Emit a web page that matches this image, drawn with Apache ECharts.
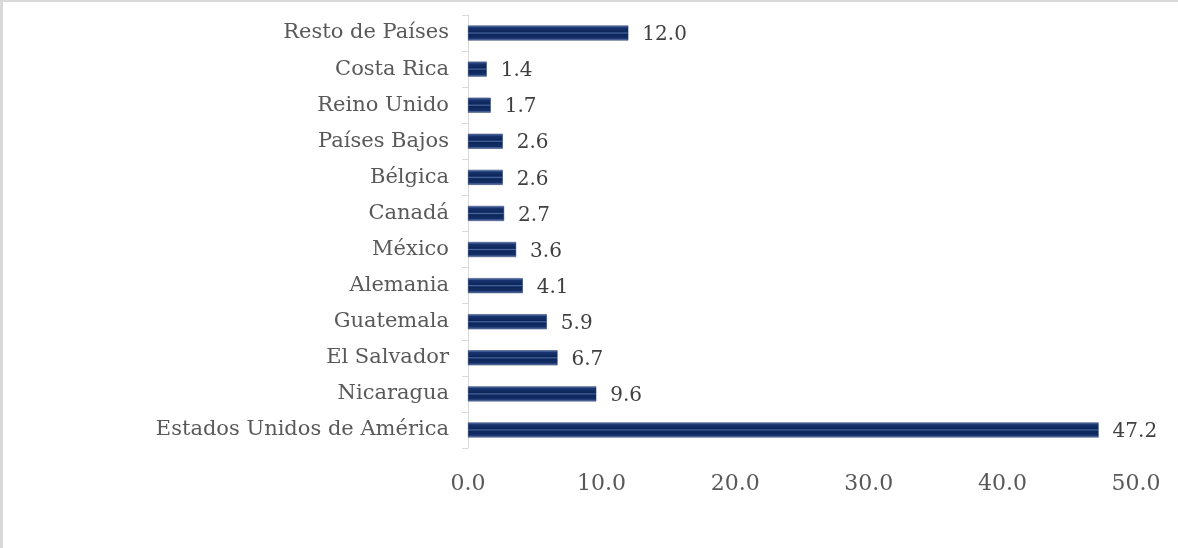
<!DOCTYPE html>
<html lang="es">
<head>
    <meta charset="UTF-8">
    <title>Países</title>
    <script src="https://cdn.jsdelivr.net/npm/echarts@6/dist/echarts.min.js"></script>
    <style>
        html, body { margin: 0; padding: 0; background: #fff; }
        #chart { width: 1178px; height: 548px; box-sizing: border-box; border-top: 2px solid #d9d9d9; border-left: 3px solid #d9d9d9; }
    </style>
</head>
<body>
    <div id="chart"></div>
    <script>
        // categorías de abajo hacia arriba
        const paises = ['Estados Unidos de América', 'Nicaragua', 'El Salvador', 'Guatemala', 'Alemania',
            'México', 'Canadá', 'Bélgica', 'Países Bajos', 'Reino Unido', 'Costa Rica', 'Resto de Países'];
        const valores = [47.2, 9.6, 6.7, 5.9, 4.1, 3.6, 2.7, 2.6, 2.6, 1.7, 1.4, 12.0];
        const ejeMin = 0, ejeMax = 50, ejeIntervalo = 10;

        const fuente = 'DejaVu Serif';
        const chart = echarts.init(document.getElementById('chart'));

        const relleno = new echarts.graphic.LinearGradient(0, 0, 0, 1, [
            { offset: 0, color: '#6b84b8' },
            { offset: 0.15, color: '#17336f' },
            { offset: 0.42, color: '#0d2659' },
            { offset: 0.5, color: '#4766a0' },
            { offset: 0.58, color: '#0d2659' },
            { offset: 0.85, color: '#142f68' },
            { offset: 1, color: '#7a90c0' }
        ]);

        chart.setOption({
            animation: false,
            grid: { left: 465, right: 42, top: 13, bottom: 100, containLabel: false },
            xAxis: {
                type: 'value',
                min: ejeMin, max: ejeMax, interval: ejeIntervalo,
                axisLine: { show: false },
                axisTick: { show: false },
                splitLine: { show: false },
                axisLabel: {
                    formatter: v => v.toFixed(1),
                    fontFamily: fuente, fontSize: 22, color: '#595959', margin: 25
                }
            },
            yAxis: {
                type: 'category',
                data: paises,
                axisLine: { show: true, lineStyle: { color: '#d9d9d9', width: 1 } },
                axisTick: { show: true, length: 6, lineStyle: { color: '#d9d9d9' } },
                axisLabel: { fontFamily: fuente, fontSize: 21, color: '#595959', margin: 19 }
            },
            series: [{
                type: 'bar',
                data: valores,
                barWidth: 15,
                itemStyle: { color: relleno, borderColor: '#1a2f5e', borderWidth: 0.5 },
                label: {
                    show: true, position: 'right', distance: 14, offset: [0, 2],
                    formatter: p => p.value.toFixed(1),
                    fontFamily: fuente, fontSize: 20, color: '#404040'
                }
            }]
        });
    </script>
</body>
</html>
